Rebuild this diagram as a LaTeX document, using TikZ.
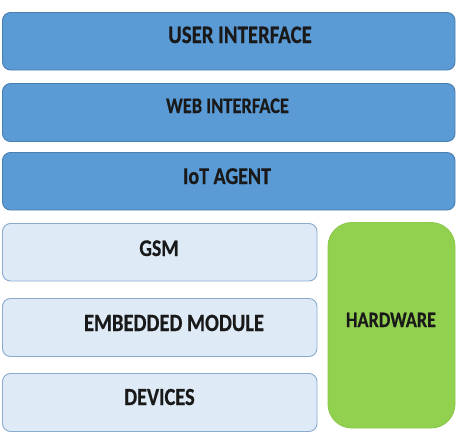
\documentclass[tikz,border=0pt]{standalone}
\usepackage{fontspec}
\setmainfont{Carlito}
\newfontface\heavy{Carlito Bold}[FakeBold=0.6]
\definecolor{topblue}{HTML}{5B9BD5}
\definecolor{topedge}{HTML}{4A7EB0}
\definecolor{lightfill}{HTML}{DEEBF7}
\definecolor{lightedge}{HTML}{8AAAD0}
\definecolor{hwgreen}{HTML}{92D050}
\definecolor{hwedge}{HTML}{8CC84A}
\newcommand{\tall}[1]{\scalebox{0.97}[1.17]{#1}}
\tikzset{
  layer/.style={draw=topedge, fill=topblue, line width=0.9pt, rounded corners=8pt},
  lowlayer/.style={draw=lightedge, fill=lightfill, line width=0.9pt, rounded corners=8pt},
  hwbox/.style={draw=hwedge, fill=hwgreen, line width=0.9pt, rounded corners=24pt},
  lbl/.style={anchor=base, inner sep=0pt, text=black!90},
}
\begin{document}
\begin{tikzpicture}[x=1pt,y=-1pt]
\useasboundingbox (0,0) rectangle (461,437);
\fill[white] (0,0) rectangle (461,437);
% boxes
\draw[layer] (2.5,12.5) rectangle (455,70) coordinate (ui);
\draw[layer] (2.5,83.5) rectangle (455,141.5) coordinate (wi);
\draw[layer] (2.5,152.5) rectangle (455,210) coordinate (iot);
\draw[lowlayer] (2.5,223.5) rectangle (317,281) coordinate (gsm);
\draw[lowlayer] (2.5,298.5) rectangle (317,356.5) coordinate (emb);
\draw[lowlayer] (2.5,373.5) rectangle (317,431.5) coordinate (dev);
\draw[hwbox] (328,222.5) rectangle (455,428) coordinate (hw);
% labels
\node[lbl, font=\heavy\fontsize{21.5}{21.5}\selectfont] (tui) at (240,43) {\tall{USER INTERFACE}};
\node[lbl, font=\heavy\fontsize{19}{19}\selectfont] (twi) at (227.5,113) {\tall{WEB INTERFACE}};
\node[lbl, font=\heavy\fontsize{20.6}{20.6}\selectfont] (tiot) at (227,184) {\tall{IoT AGENT}};
\node[lbl, font=\heavy\fontsize{20.4}{20.4}\selectfont] (tgsm) at (159,256) {\tall{GSM}};
\node[lbl, font=\heavy\fontsize{21.2}{21.2}\selectfont] (temb) at (174,331) {\tall{EMBEDDED MODULE}};
\node[lbl, font=\heavy\fontsize{21}{21}\selectfont] (tdev) at (159.5,405) {\tall{DEVICES}};
\node[lbl, font=\heavy\fontsize{18.8}{18.8}\selectfont] (thw) at (391,327) {\tall{HARDWARE}};
\end{tikzpicture}
\end{document}
